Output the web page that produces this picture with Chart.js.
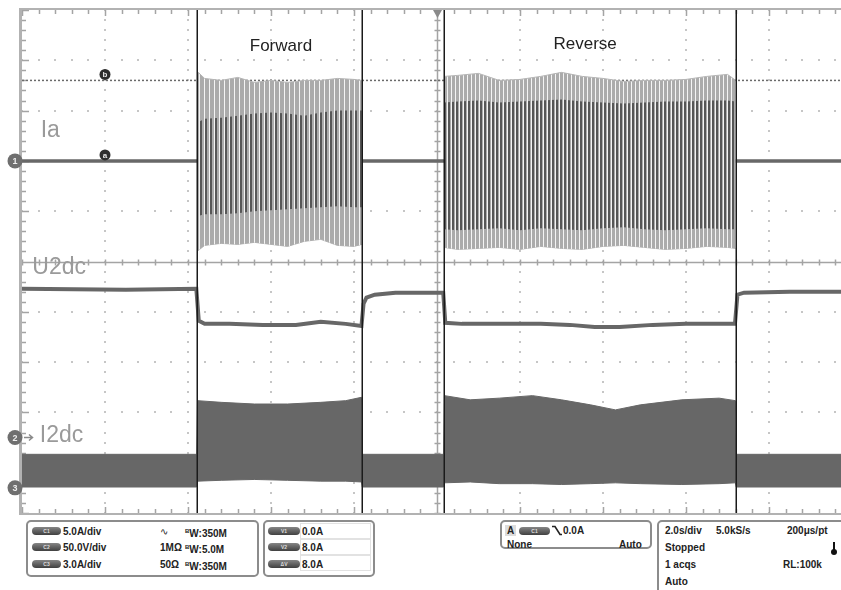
<!DOCTYPE html>
<html lang="pt">
<head>
<meta charset="utf-8">
<title>Ia / U2dc / I2dc</title>
<script src="https://cdn.jsdelivr.net/npm/chart.js@4.4.1/dist/chart.umd.min.js"></script>
<style>
  html, body { margin: 0; padding: 0; background: #fff; }
  body { width: 841px; height: 590px; position: relative; overflow: hidden; font-family: "Liberation Sans", Arial, sans-serif; }
  #tela { position: absolute; left: 0; top: 0; }
  .caixa { position: absolute; border: 2px solid #8c8c8c; border-radius: 5px; box-sizing: border-box; }
  .pilula { position: absolute; width: 29px; height: 8px; border-radius: 4px; background: linear-gradient(#858585, #404040); color: #ddd; font-size: 5px; font-weight: bold; text-align: center; line-height: 8px; }
  .txt { position: absolute; white-space: nowrap; line-height: 11px; font-size: 10px; font-weight: bold; color: #222; }
  .cel { position: absolute; left: 300px; width: 71px; height: 16px; border: 1px solid #e2e2e2; box-sizing: border-box; }
  sup { font-size: 6px; vertical-align: 4px; }
</style>
</head>
<body>
<canvas id="tela" width="841" height="516"></canvas>

<!-- Painel inferior do osciloscópio -->
<div class="caixa" style="left:26px; top:520px; width:233px; height:57px;"></div>
<div class="pilula" style="left:32px; top:527px;">C1</div>
<div class="pilula" style="left:32px; top:543px;">C2</div>
<div class="pilula" style="left:32px; top:560px;">C3</div>
<div class="txt" style="left:63px; top:526px;">5.0A/div</div>
<div class="txt" style="left:63px; top:542px;">50.0V/div</div>
<div class="txt" style="left:63px; top:559px;">3.0A/div</div>
<div class="txt" style="left:160px; top:526px; font-weight:normal;">∿</div>
<div class="txt" style="left:160px; top:542px;">1MΩ</div>
<div class="txt" style="left:160px; top:559px;">50Ω</div>
<div class="txt" style="left:185px; top:526px;"><sup>B</sup>W:350M</div>
<div class="txt" style="left:185px; top:542px;"><sup>B</sup>W:5.0M</div>
<div class="txt" style="left:185px; top:559px;"><sup>B</sup>W:350M</div>

<div class="caixa" style="left:263px; top:520px; width:112px; height:57px;"></div>
<div class="cel" style="top:523px;"></div>
<div class="cel" style="top:539px;"></div>
<div class="cel" style="top:555px;"></div>
<div class="pilula" style="left:268px; top:527px; width:32px;">V1</div>
<div class="pilula" style="left:268px; top:543px; width:32px;">V2</div>
<div class="pilula" style="left:268px; top:560px; width:32px;">ΔV</div>
<div class="txt" style="left:302px; top:526px;">0.0A</div>
<div class="txt" style="left:302px; top:542px;">8.0A</div>
<div class="txt" style="left:302px; top:559px;">8.0A</div>

<div class="caixa" style="left:500px; top:520px; width:152px; height:29px;"></div>
<div class="txt" style="left:505px; top:525px; background:#dcdcdc; padding:0 2px;">A</div>
<div class="pilula" style="left:519px; top:527px; width:31px;">C1</div>
<svg style="position:absolute; left:552px; top:525px;" width="10" height="11"><polyline points="0,1.5 3,1.5 8,9.5 10,9.5" fill="none" stroke="#222" stroke-width="1.6"/></svg>
<div class="txt" style="left:563px; top:525px;">0.0A</div>
<div class="txt" style="left:507px; top:539px;">None</div>
<div class="txt" style="left:619px; top:539px;">Auto</div>

<div class="caixa" style="left:657px; top:520px; width:220px; height:100px;"></div>
<div class="txt" style="left:665px; top:525px;">2.0s/div</div>
<div class="txt" style="left:716px; top:525px;">5.0kS/s</div>
<div class="txt" style="left:787px; top:525px;">200μs/pt</div>
<div class="txt" style="left:665px; top:542px;">Stopped</div>
<div style="position:absolute; left:833px; top:542px; width:2px; height:9px; background:#111;"></div>
<div style="position:absolute; left:831px; top:549px; width:6px; height:6px; border-radius:3px; background:#111;"></div>
<div class="txt" style="left:665px; top:559px;">1 acqs</div>
<div class="txt" style="left:783px; top:559px;">RL:100k</div>
<div class="txt" style="left:665px; top:576px;">Auto</div>

<script>
// Escalas dos canais (posição do zero em divisões, unidade por divisão)
const CH1 = { desloc: 2.0, escala: 5.0 };   // Ia, A/div
const CH2 = { desloc: -3.5, escala: 50.0 }; // U2dc, V/div
const CH3 = { desloc: -4.5, escala: 3.0 };  // I2dc, A/div

// Instantes dos marcadores verticais (s), 2.0 s/div, disparo em t = 0
const marcadores = [-5.78, -1.81, 0.17, 7.2];

// Ia em repouso (A), null interrompe o traço nas rajadas
const tIaRepouso = [-10, -5.78, -5.7, -1.81, 0.17, 0.2, 7.2, 9.8];
const iaRepouso = [0, 0, null, 0, 0, null, 0, 0];

// Ia durante "Forward" (envelope externo e faixa interna, A)
const tIaIda = [-5.78, -5.6, -5.2, -4.8, -4.4, -4.0, -3.6, -3.2, -2.8, -2.4, -2.0, -1.81];
const iaIdaMax   = [8.9, 8.2, 8.0, 8.3, 7.8, 8.0, 7.8, 8.0, 8.0, 8.2, 8.1, 8.0];
const iaIdaMin   = [-9.0, -8.4, -8.2, -8.3, -8.1, -8.3, -8.5, -8.0, -7.8, -8.4, -8.5, -8.3];
const iaIdaInMax = [3.8, 4.2, 4.3, 4.5, 4.7, 4.8, 4.7, 4.5, 4.8, 5.0, 5.0, 5.0];
const iaIdaInMin = [-5.5, -5.3, -5.3, -5.2, -5.0, -4.9, -4.8, -4.7, -4.6, -4.5, -4.6, -4.6];

// Ia durante "Reverse" (A)
const tIaVolta = [0.17, 0.5, 1.0, 1.5, 2.0, 2.5, 3.0, 3.5, 4.0, 4.5, 5.0, 5.5, 6.0, 6.5, 7.0, 7.2];
const iaVoltaMax   = [8.4, 8.5, 8.7, 8.0, 8.1, 8.4, 8.8, 8.4, 8.2, 7.9, 8.0, 8.0, 8.1, 8.4, 8.6, 8.0];
const iaVoltaMin   = [-8.6, -8.8, -8.7, -8.6, -8.8, -8.5, -8.7, -8.8, -8.5, -8.4, -8.6, -8.8, -8.7, -8.5, -8.6, -8.7];
const iaVoltaInMax = [5.8, 5.9, 6.0, 5.8, 5.9, 6.0, 6.1, 5.9, 5.8, 5.7, 5.8, 5.9, 5.9, 6.0, 6.0, 5.9];
const iaVoltaInMin = [-6.8, -6.9, -6.8, -6.7, -6.9, -6.7, -6.8, -6.9, -6.7, -6.6, -6.8, -6.9, -6.8, -6.7, -6.8, -6.8];

// U2dc (V)
const tU2dc = [-10, -7.5, -5.8, -5.74, -5.6, -5.0, -4.2, -3.4, -2.8, -2.2, -1.82, -1.77, -1.7, -1.5, -1.0, 0.15, 0.2, 0.6, 1.5, 2.5, 3.2, 3.8, 4.4, 5.2, 6.0, 7.18, 7.24, 7.4, 8.5, 9.8];
const u2dc  = [148, 147, 148, 116, 113, 113, 112, 112, 115, 113, 111, 133, 139, 142, 144, 144, 114, 113, 113, 113, 112, 110, 110, 112, 113, 113, 142, 144, 145, 145];

// I2dc (faixa de ripple, A)
const tI2dc   = [-10, -8.0, -5.79, -5.77, -5.2, -4.4, -3.6, -2.8, -2.2, -1.82, -1.80, 0.16, 0.18, 0.8, 1.5, 2.3, 3.0, 3.7, 4.3, 4.9, 5.9, 6.8, 7.19, 7.21, 9.8];
const i2dcMax = [2.0, 2.0, 2.0, 5.2, 5.1, 5.0, 5.0, 5.1, 5.2, 5.4, 2.0, 2.0, 5.5, 5.25, 5.35, 5.5, 5.25, 4.95, 4.65, 4.95, 5.25, 5.35, 5.2, 2.0, 2.0];
const i2dcMin = [0.05, 0.05, 0.05, 0.4, 0.45, 0.5, 0.45, 0.4, 0.4, 0.35, 0.05, 0.05, 0.3, 0.35, 0.25, 0.25, 0.2, 0.25, 0.3, 0.25, 0.2, 0.25, 0.3, 0.05, 0.05];

// Converte valores físicos em divisões da tela
function pontos(tempos, valores, canal) {
  return tempos.map((t, i) => ({
    x: t,
    y: valores[i] === null ? null : canal.desloc + valores[i] / canal.escala
  }));
}

// Padrão de listras verticais (aspecto da portadora comprimida)
const ctxTela = document.getElementById('tela').getContext('2d');
function listras(cores) {
  const c = document.createElement('canvas');
  c.width = cores.length; c.height = 1;
  const g = c.getContext('2d');
  cores.forEach((cor, i) => { g.fillStyle = cor; g.fillRect(i, 0, 1, 1); });
  return ctxTela.createPattern(c, 'repeat');
}
const CL = '#ababab', CE = '#565656', BR = '#f4f4f4';
const listraIdaExt = listras([CL, CL, CL, CL, BR]);
const listraIdaInt = listras([CE, CE, CL, CL, BR]);
const listraVoltaExt = listras([CL, CL, CL, BR]);
const listraVoltaInt = listras([CE, CE, CL, BR]);

function faixa(tempos, max, min, canal, cor, borda, ordem) {
  return [
    { data: pontos(tempos, max, canal), fill: '+1', backgroundColor: cor, borderColor: borda, borderWidth: 1, order: ordem },
    { data: pontos(tempos, min, canal), fill: false, borderColor: borda, borderWidth: 1, order: ordem }
  ];
}

const datasets = [
  ...faixa(tI2dc, i2dcMax, i2dcMin, CH3, '#676767', '#676767', 6),
  { data: pontos(tU2dc, u2dc, CH2), fill: false, borderColor: '#676767', borderWidth: 4, order: 5 },
  ...faixa(tIaIda, iaIdaMax, iaIdaMin, CH1, listraIdaExt, '#b5b5b5', 4),
  ...faixa(tIaIda, iaIdaInMax, iaIdaInMin, CH1, listraIdaInt, 'rgba(0,0,0,0)', 3),
  ...faixa(tIaVolta, iaVoltaMax, iaVoltaMin, CH1, listraVoltaExt, '#b5b5b5', 4),
  ...faixa(tIaVolta, iaVoltaInMax, iaVoltaInMin, CH1, listraVoltaInt, 'rgba(0,0,0,0)', 3),
  { data: pontos(tIaRepouso, iaRepouso, CH1), fill: false, spanGaps: false, borderColor: '#686868', borderWidth: 3.5, order: 1 }
];

// Textos sobre a tela
const rotulos = [
  { texto: 'Forward', t: -3.76, div: 4.28, cor: '#222', fonte: '17px "Liberation Sans"', alinh: 'center' },
  { texto: 'Reverse', t: 3.57, div: 4.32, cor: '#222', fonte: '17px "Liberation Sans"', alinh: 'center' },
  { texto: 'Ia', t: -9.55, div: 2.6, cor: '#9a9a9a', fonte: '23px "Liberation Sans"', alinh: 'left' },
  { texto: 'U2dc', t: -9.75, div: -0.12, cor: '#9a9a9a', fonte: '23px "Liberation Sans"', alinh: 'left' },
  { texto: 'I2dc', t: -9.57, div: -3.46, cor: '#9a9a9a', fonte: '23px "Liberation Sans"', alinh: 'left' }
];

// Cursores (canal 1)
const cursorB = 8.0;
const cursorA = 0.0;

// Desenha graticula, eixos centrais e moldura
const graticula = {
  id: 'graticula',
  beforeDatasetsDraw(chart) {
    const { ctx, chartArea: a, scales: { x, y } } = chart;
    ctx.save();
    // pontos da grade
    ctx.fillStyle = '#c6c6c6';
    for (let i = 1; i <= 10; i++) {
      if (i === 5) continue;
      const px = Math.round(x.getPixelForValue(-10 + i * 2));
      for (let k = 0; k <= 50; k++) {
        const py = Math.round(y.getPixelForValue(-5 + k * 0.2));
        ctx.fillRect(px - 1, py - 1, 2, 2);
      }
    }
    for (let j = 1; j < 10; j++) {
      if (j === 5) continue;
      const py = Math.round(y.getPixelForValue(-5 + j));
      for (let k = 0; k <= 50; k++) {
        const px = Math.round(x.getPixelForValue(-10 + k * 0.4));
        ctx.fillRect(px - 1, py - 1, 2, 2);
      }
    }
    // eixos centrais com marcas
    ctx.strokeStyle = '#a4a4a4';
    ctx.lineWidth = 1.5;
    const x0 = Math.round(x.getPixelForValue(0)) + 0.5;
    const y0 = Math.round(y.getPixelForValue(0)) + 0.5;
    ctx.beginPath();
    ctx.moveTo(a.left, y0); ctx.lineTo(a.right, y0);
    ctx.moveTo(x0, a.top); ctx.lineTo(x0, a.bottom);
    for (let k = 0; k <= 50; k++) {
      const px = Math.round(x.getPixelForValue(-10 + k * 0.4)) + 0.5;
      ctx.moveTo(px, y0 - 3); ctx.lineTo(px, y0 + 3);
      ctx.moveTo(px, a.top); ctx.lineTo(px, a.top + (k % 5 === 0 ? 6 : 4));
      ctx.moveTo(px, a.bottom); ctx.lineTo(px, a.bottom - (k % 5 === 0 ? 6 : 4));
      const py = Math.round(y.getPixelForValue(-5 + k * 0.2)) + 0.5;
      ctx.moveTo(x0 - 3, py); ctx.lineTo(x0 + 3, py);
      ctx.moveTo(a.left, py); ctx.lineTo(a.left + (k % 5 === 0 ? 7 : 4), py);
    }
    ctx.stroke();
    // moldura
    ctx.strokeStyle = '#b2b2b2';
    ctx.lineWidth = 3;
    ctx.beginPath();
    ctx.moveTo(a.left - 1.5, a.top - 1); ctx.lineTo(a.left - 1.5, a.bottom + 1);
    ctx.stroke();
    ctx.lineWidth = 2;
    ctx.beginPath();
    ctx.moveTo(a.left - 3, a.top - 1); ctx.lineTo(a.right, a.top - 1);
    ctx.moveTo(a.left - 3, a.bottom + 1); ctx.lineTo(a.right, a.bottom + 1);
    ctx.stroke();
    // indicador de disparo
    ctx.fillStyle = '#8a8a8a';
    ctx.beginPath();
    ctx.moveTo(x0 - 4.5, a.top); ctx.lineTo(x0 + 4.5, a.top); ctx.lineTo(x0, a.top + 8);
    ctx.fill();
    // cursor b (linha pontilhada)
    const yb = y.getPixelForValue(CH1.desloc + cursorB / CH1.escala);
    ctx.strokeStyle = '#6a6a6a';
    ctx.lineWidth = 1.5;
    ctx.setLineDash([2, 2]);
    ctx.beginPath();
    ctx.moveTo(a.left, yb); ctx.lineTo(a.right, yb);
    ctx.stroke();
    ctx.restore();
  },
  afterDatasetsDraw(chart) {
    const { ctx, chartArea: a, scales: { x, y } } = chart;
    ctx.save();
    // marcadores verticais
    ctx.strokeStyle = '#1a1a1a';
    ctx.lineWidth = 1.5;
    ctx.beginPath();
    marcadores.forEach(t => {
      const px = Math.round(x.getPixelForValue(t)) + 0.25;
      ctx.moveTo(px, a.top); ctx.lineTo(px, a.bottom);
    });
    ctx.stroke();
    // textos
    ctx.textBaseline = 'middle';
    rotulos.forEach(r => {
      ctx.font = r.fonte;
      ctx.fillStyle = r.cor;
      ctx.textAlign = r.alinh;
      ctx.fillText(r.texto, x.getPixelForValue(r.t), y.getPixelForValue(r.div));
    });
    // marcas dos cursores
    const xc = x.getPixelForValue(-8);
    [['b', cursorB], ['a', cursorA]].forEach(([letra, v]) => {
      const py = y.getPixelForValue(CH1.desloc + v / CH1.escala) - 6;
      ctx.fillStyle = '#2e2e2e';
      ctx.beginPath(); ctx.arc(xc, py, 5.5, 0, Math.PI * 2); ctx.fill();
      ctx.fillStyle = '#e8e8e8';
      ctx.font = 'bold 8px "Liberation Sans"';
      ctx.textAlign = 'center';
      ctx.fillText(letra, xc, py + 0.5);
    });
    // marcadores de canal na borda esquerda
    [['1', CH1], ['2', CH2], ['3', CH3]].forEach(([n, canal]) => {
      const py = y.getPixelForValue(canal.desloc);
      ctx.fillStyle = '#6f6f6f';
      ctx.beginPath(); ctx.arc(15, py, 7.5, 0, Math.PI * 2); ctx.fill();
      ctx.fillStyle = '#eeeeee';
      ctx.font = 'bold 9px "Liberation Sans"';
      ctx.textAlign = 'center';
      ctx.fillText(n, 15, py + 0.5);
    });
    // seta do canal 2
    const y2 = y.getPixelForValue(CH2.desloc);
    ctx.strokeStyle = '#8a8a8a';
    ctx.lineWidth = 1.5;
    ctx.beginPath();
    ctx.moveTo(24, y2); ctx.lineTo(32, y2);
    ctx.moveTo(29, y2 - 3); ctx.lineTo(32.5, y2); ctx.lineTo(29, y2 + 3);
    ctx.stroke();
    ctx.restore();
  }
};

new Chart(ctxTela, {
  type: 'line',
  data: { datasets },
  options: {
    responsive: false,
    animation: false,
    layout: { padding: { left: 22, top: 10, right: 0, bottom: 3 } },
    elements: { point: { radius: 0 }, line: { tension: 0 } },
    plugins: { legend: { display: false }, tooltip: { enabled: false } },
    scales: {
      x: { type: 'linear', min: -10, max: 9.735, display: false },
      y: { type: 'linear', min: -5, max: 5, display: false }
    }
  },
  plugins: [graticula]
});
</script>
</body>
</html>
